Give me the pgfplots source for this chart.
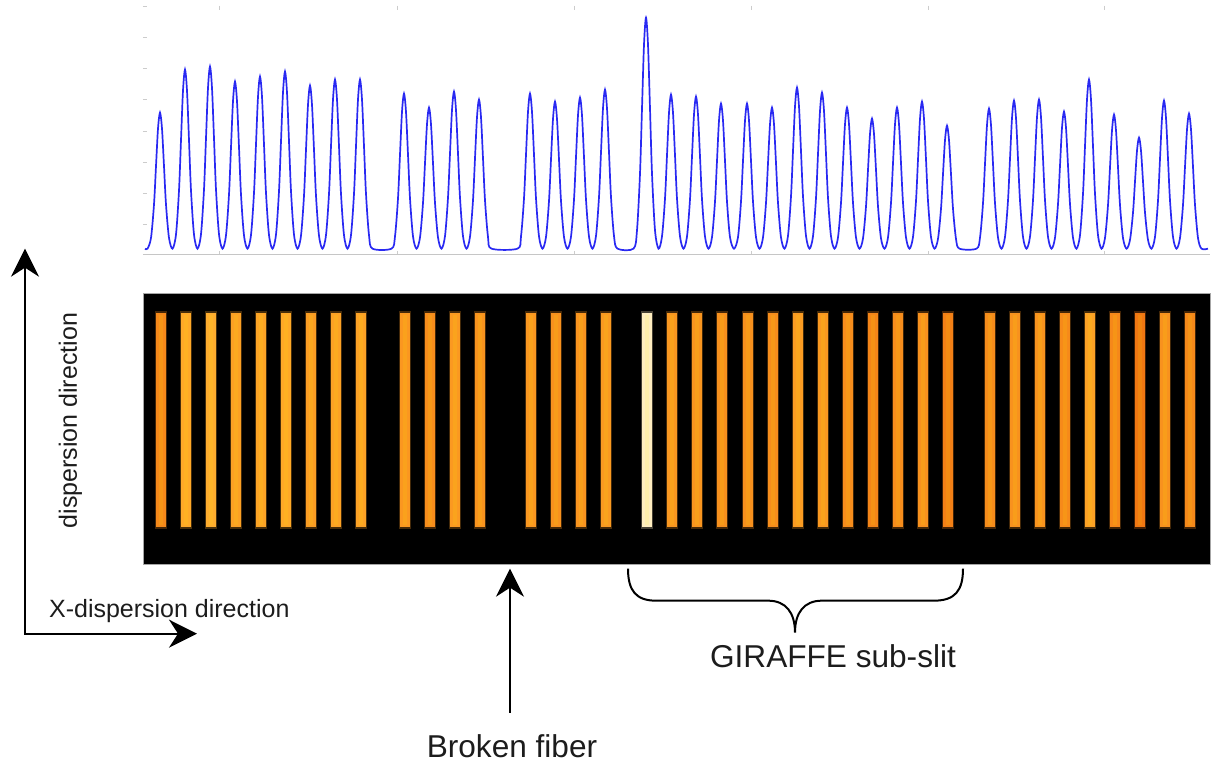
\documentclass[border=0pt]{standalone}
\usepackage{fontspec}
\setmainfont{Liberation Sans}
\usepackage{pgfplots}
\usepackage{pgfplotstable}
\pgfplotsset{compat=1.18}
\usetikzlibrary{arrows.meta}
\definecolor{txt}{HTML}{1C1C1C}
\definecolor{curve}{rgb}{0.16,0.16,0.95}

\pgfplotstableread{
x y h
161 144.5 136
186 144.5 179
211 144.5 182
236 144.5 167
261 144.5 172
286 144.5 177
311 144.5 163
336 144.5 169
361 144.5 169
405 144.5 155
430 144.5 141
455 144.5 157
480 144.5 149
531 144.5 155
556 144.5 147
581 144.5 151
606 144.5 159
647 144.5 231
672 144.5 154
697 144.5 152
722 144.5 145
748 144.5 145
773 144.5 141
798 144.5 161
823 144.5 156
848 144.5 141
873 144.5 130
898 144.5 141
923 144.5 147
948 144.5 123
990 144.5 140
1015 144.5 148
1040 144.5 149
1065 144.5 137
1090 144.5 169
1115 144.5 134
1140 144.5 111
1165 144.5 148
1190 144.5 135
}\bars

\begin{document}
\begin{tikzpicture}
\begin{scope}[x=0.5pt,y=-0.5pt]
\useasboundingbox (0,0) rectangle (1216,761);
\end{scope}

% ---------- top profile ----------
\begin{axis}[
  at={(71.5pt,-127pt)}, anchor=south west,
  scale only axis, width=533.5pt, height=124.5pt,
  xmin=143, xmax=1210, ymin=-6, ymax=243,
  axis line style={draw=none},
  xtick={219,397,574,751,928,1104},
  ytick={24,55,86,117,149,180,211,242},
  xticklabels={}, yticklabels={},
  ytick pos=left,
  tick align=inside,
  major tick length=2pt,
  tick style={gray!40, line width=0.5pt},
  clip=false,
]
\draw[gray!45, line width=0.6pt] (rel axis cs:0,0) -- (rel axis cs:1,0);
\addplot[draw=curve, line width=0.85pt, smooth, tension=0.5] coordinates {
(145,0)(147.5,0)
(151,10.8)(154,44.2)(156,82.5)(158,120.0)(160,136)(162,120.0)(164,82.5)(166,44.2)(169,10.8)(172.5,0)
(176,14.2)(179,58.1)(181,108.6)(183,158.0)(185,179)(187,158.0)(189,108.6)(191,58.1)(194,14.2)(197.5,0)
(201,14.5)(204,59.1)(206,110.4)(208,160.6)(210,182)(212,160.6)(214,110.4)(216,59.1)(219,14.5)(222.5,0)
(226,13.3)(229,54.2)(231,101.3)(233,147.4)(235,167)(237,147.4)(239,101.3)(241,54.2)(244,13.3)(247.5,0)
(251,13.7)(254,55.8)(256,104.3)(258,151.8)(260,172)(262,151.8)(264,104.3)(266,55.8)(269,13.7)(272.5,0)
(276,14.1)(279,57.5)(281,107.4)(283,156.2)(285,177)(287,156.2)(289,107.4)(291,57.5)(294,14.1)(297.5,0)
(301,13.0)(304,52.9)(306,98.9)(308,143.8)(310,163)(312,143.8)(314,98.9)(316,52.9)(319,13.0)(322.5,0)
(326,13.5)(329,54.9)(331,102.5)(333,149.1)(335,169)(337,149.1)(339,102.5)(341,54.9)(344,13.5)(347.5,0)
(351,13.5)(354,54.9)(356,102.5)(358,149.1)(360,169)(362,149.1)(364,102.5)(366,54.9)(369,13.5)(372.5,0)
(391.5,0)
(395,12.3)(398,50.3)(400,94.0)(402,136.8)(404,155)(406,136.8)(408,94.0)(410,50.3)(413,12.3)(416.5,0)
(420,11.2)(423,45.8)(425,85.5)(427,124.4)(429,141)(431,124.4)(433,85.5)(435,45.8)(438,11.2)(441.5,0)
(445,12.5)(448,51.0)(450,95.2)(452,138.6)(454,157)(456,138.6)(458,95.2)(460,51.0)(463,12.5)(466.5,0)
(470,11.9)(473,48.4)(475,90.4)(477,131.5)(479,149)(481,131.5)(483,90.4)(485,48.4)(488,11.9)(491.5,0)
(517.5,0)
(521,12.3)(524,50.3)(526,94.0)(528,136.8)(530,155)(532,136.8)(534,94.0)(536,50.3)(539,12.3)(542.5,0)
(546,11.7)(549,47.7)(551,89.2)(553,129.7)(555,147)(557,129.7)(559,89.2)(561,47.7)(564,11.7)(567.5,0)
(571,12.0)(574,49.0)(576,91.6)(578,133.3)(580,151)(582,133.3)(584,91.6)(586,49.0)(589,12.0)(592.5,0)
(596,12.7)(599,51.6)(601,96.4)(603,140.3)(605,159)(607,140.3)(609,96.4)(611,51.6)(614,12.7)(617.5,0)
(633.5,0)
(637,18.4)(640,75.0)(642,140.1)(644,203.9)(646,231)(648,203.9)(650,140.1)(652,75.0)(655,18.4)(658.5,0)
(662,12.3)(665,50.0)(667,93.4)(669,135.9)(671,154)(673,135.9)(675,93.4)(677,50.0)(680,12.3)(683.5,0)
(687,12.1)(690,49.4)(692,92.2)(694,134.1)(696,152)(698,134.1)(700,92.2)(702,49.4)(705,12.1)(708.5,0)
(712,11.5)(715,47.1)(717,87.9)(719,128.0)(721,145)(723,128.0)(725,87.9)(727,47.1)(730,11.5)(734,0)
(738,11.5)(741,47.1)(743,87.9)(745,128.0)(747,145)(749,128.0)(751,87.9)(753,47.1)(756,11.5)(759.5,0)
(763,11.2)(766,45.8)(768,85.5)(770,124.4)(772,141)(774,124.4)(776,85.5)(778,45.8)(781,11.2)(784.5,0)
(788,12.8)(791,52.3)(793,97.6)(795,142.1)(797,161)(799,142.1)(801,97.6)(803,52.3)(806,12.8)(809.5,0)
(813,12.4)(816,50.7)(818,94.6)(820,137.7)(822,156)(824,137.7)(826,94.6)(828,50.7)(831,12.4)(834.5,0)
(838,11.2)(841,45.8)(843,85.5)(845,124.4)(847,141)(849,124.4)(851,85.5)(853,45.8)(856,11.2)(859.5,0)
(863,10.3)(866,42.2)(868,78.8)(870,114.7)(872,130)(874,114.7)(876,78.8)(878,42.2)(881,10.3)(884.5,0)
(888,11.2)(891,45.8)(893,85.5)(895,124.4)(897,141)(899,124.4)(901,85.5)(903,45.8)(906,11.2)(909.5,0)
(913,11.7)(916,47.7)(918,89.2)(920,129.7)(922,147)(924,129.7)(926,89.2)(928,47.7)(931,11.7)(934.5,0)
(938,9.8)(941,39.9)(943,74.6)(945,108.5)(947,123)(949,108.5)(951,74.6)(953,39.9)(956,9.8)(959.5,0)
(976.5,0)
(980,11.1)(983,45.5)(985,84.9)(987,123.6)(989,140)(991,123.6)(993,84.9)(995,45.5)(998,11.1)(1001.5,0)
(1005,11.8)(1008,48.1)(1010,89.8)(1012,130.6)(1014,148)(1016,130.6)(1018,89.8)(1020,48.1)(1023,11.8)(1026.5,0)
(1030,11.9)(1033,48.4)(1035,90.4)(1037,131.5)(1039,149)(1041,131.5)(1043,90.4)(1045,48.4)(1048,11.9)(1051.5,0)
(1055,10.9)(1058,44.5)(1060,83.1)(1062,120.9)(1064,137)(1066,120.9)(1068,83.1)(1070,44.5)(1073,10.9)(1076.5,0)
(1080,13.5)(1083,54.9)(1085,102.5)(1087,149.1)(1089,169)(1091,149.1)(1093,102.5)(1095,54.9)(1098,13.5)(1101.5,0)
(1105,10.7)(1108,43.5)(1110,81.3)(1112,118.3)(1114,134)(1116,118.3)(1118,81.3)(1120,43.5)(1123,10.7)(1126.5,0)
(1130,8.8)(1133,36.0)(1135,67.3)(1137,98.0)(1139,111)(1141,98.0)(1143,67.3)(1145,36.0)(1148,8.8)(1151.5,0)
(1155,11.8)(1158,48.1)(1160,89.8)(1162,130.6)(1164,148)(1166,130.6)(1168,89.8)(1170,48.1)(1173,11.8)(1176.5,0)
(1180,10.7)(1183,43.8)(1185,81.9)(1187,119.1)(1189,135)(1191,119.1)(1193,81.9)(1195,43.8)(1198,10.7)(1201.5,0)
(1208,0)
};
\end{axis}

% ---------- fibre image ----------
\begin{axis}[
  at={(71.5pt,-282pt)}, anchor=south west,
  scale only axis, width=533.5pt, height=135.5pt,
  xmin=143, xmax=1210, ymin=0, ymax=271,
  axis background/.style={fill=black},
  axis line style={gray!70, line width=0.5pt},
  ticks=none,
  colormap={fiber}{rgb255(0)=(240,118,18) rgb255(70)=(255,170,40) rgb255(121)=(255,238,192)},
  point meta min=110, point meta max=231,
]
\addplot[scatter, only marks, mark=|, mark size=54.5pt, point meta=explicit,
  scatter/use mapped color={draw=mapped color!55!black, fill=mapped color},
  mark options={line width=6pt, opacity=0.5}]
  table[x=x, y=y, meta=h] \bars;
\addplot[scatter, only marks, mark=|, mark size=53.5pt, point meta=explicit,
  scatter/use mapped color={draw=mapped color, fill=mapped color},
  mark options={line width=4.8pt}]
  table[x=x, y=y, meta=h] \bars;
\addplot[scatter, only marks, mark=|, mark size=52.5pt, point meta=explicit,
  scatter/use mapped color={draw=mapped color!80!yellow, fill=mapped color},
  mark options={line width=1.8pt, opacity=0.5}]
  table[x=x, y=y, meta=h] \bars;
\end{axis}

% ---------- annotations ----------
\begin{scope}[x=0.5pt,y=-0.5pt, line width=1.1pt, black]
\draw[{Stealth[length=14pt,width=14pt,inset=4.5pt]}-{Stealth[length=14pt,width=14pt,inset=4.5pt]}]
  (25,248) -- (25,633) -- (197,633);
\draw[-{Stealth[length=14pt,width=14pt,inset=4.5pt]}] (510,712) -- (510,568);
\draw[line width=1pt] (628,568) .. controls (628,590) and (636,600) .. (656,600) -- (768,600)
  .. controls (786,600) and (795,612) .. (795,632)
  .. controls (795,612) and (804,600) .. (822,600) -- (934,600)
  .. controls (955,600) and (963,590) .. (963,568);
\node[txt, anchor=base west, inner sep=0pt, font=\fontsize{12.5}{15}\selectfont] at (48,617) {X-dispersion direction};
\node[txt, rotate=90, anchor=base, inner sep=0pt, font=\fontsize{12.5}{15}\selectfont] at (77,420) {dispersion direction};
\node[txt, anchor=base, inner sep=0pt, font=\fontsize{15.8}{19}\selectfont] at (512,757) {Broken fiber};
\node[txt, anchor=base, inner sep=0pt, font=\fontsize{15.8}{19}\selectfont] at (833,667) {GIRAFFE sub-slit};
\end{scope}
\end{tikzpicture}
\end{document}
